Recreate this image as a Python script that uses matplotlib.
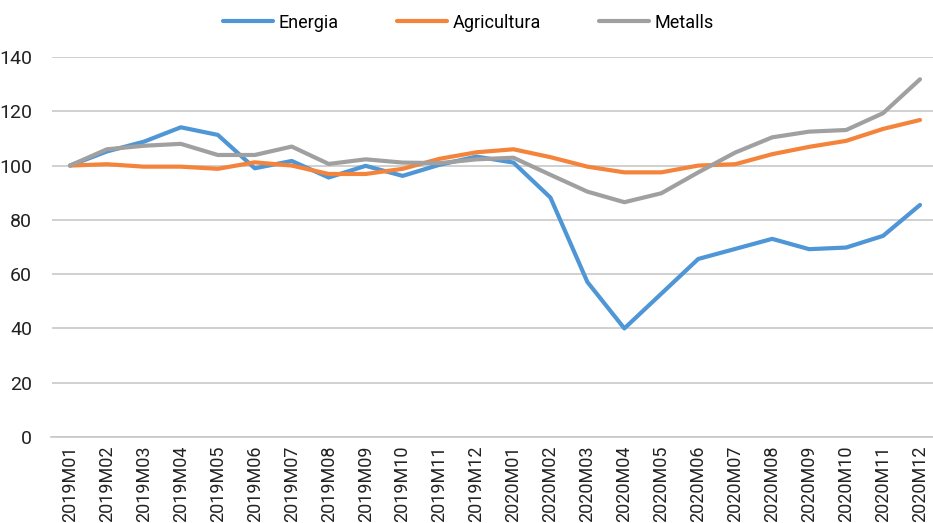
import matplotlib
matplotlib.use("Agg")
import matplotlib.pyplot as plt

# Data (index, 2019M01 = 100)
months = ["2019M01", "2019M02", "2019M03", "2019M04", "2019M05", "2019M06",
          "2019M07", "2019M08", "2019M09", "2019M10", "2019M11", "2019M12",
          "2020M01", "2020M02", "2020M03", "2020M04", "2020M05", "2020M06",
          "2020M07", "2020M08", "2020M09", "2020M10", "2020M11", "2020M12"]

energia = [100.0, 105.2, 108.8, 114.1, 111.3, 99.0, 101.7, 95.6, 99.9, 96.2, 100.3, 103.3,
           101.1, 88.2, 57.1, 40.0, 52.8, 65.6, 69.3, 73.0, 69.2, 69.8, 74.1, 85.5]
agricultura = [100.0, 100.5, 99.6, 99.6, 98.8, 101.2, 100.0, 96.9, 96.9, 98.8, 102.5, 104.9,
               106.0, 103.1, 99.6, 97.5, 97.5, 100.0, 100.5, 104.2, 106.9, 109.1, 113.5, 116.8]
metalls = [100.0, 106.0, 107.3, 108.0, 103.9, 103.9, 107.0, 100.6, 102.3, 101.1, 100.9, 102.3,
           102.9, 96.6, 90.4, 86.5, 89.8, 97.5, 104.8, 110.4, 112.5, 113.1, 119.3, 131.8]

series_names = ["Energia", "Agricultura", "Metalls"]
colors = ["#4e96d5", "#f4843b", "#a0a0a0"]

plt.rcParams['font.family'] = ['Roboto', 'DejaVu Sans']

fig = plt.figure(figsize=(9.33, 5.23), dpi=100)
ax = fig.add_axes([51.5 / 933, 1 - 437 / 523, 887 / 933, 380 / 523])

x = list(range(len(months)))
for name, vals, c in zip(series_names, [energia, agricultura, metalls], colors):
    ax.plot(x, vals, color=c, lw=3, label=name, solid_capstyle='round',
            solid_joinstyle='round', clip_on=False)

ax.set_xlim(-0.5, len(months) - 0.5)
ax.set_ylim(0, 140)
ax.set_yticks(range(0, 141, 20))
ax.set_xticks(x)
ax.set_xticklabels(months, rotation=90, fontsize=13, color="#222222")
ax.tick_params(axis='y', labelsize=14, colors="#222222", length=0, pad=14)
ax.tick_params(axis='x', length=0, pad=6)

ax.grid(axis='y', color="#c8c8c8", lw=1.2)
ax.set_axisbelow(True)
for s in ["top", "right", "left"]:
    ax.spines[s].set_visible(False)
ax.spines["bottom"].set_color("#c8c8c8")
ax.spines["bottom"].set_linewidth(1.2)

fig.legend(loc="upper center", bbox_to_anchor=(0.502, 1.005), ncol=3, frameon=False,
           fontsize=13, handlelength=2.8, columnspacing=3.2, handletextpad=0.3)

fig.savefig("out.png", dpi=100)
